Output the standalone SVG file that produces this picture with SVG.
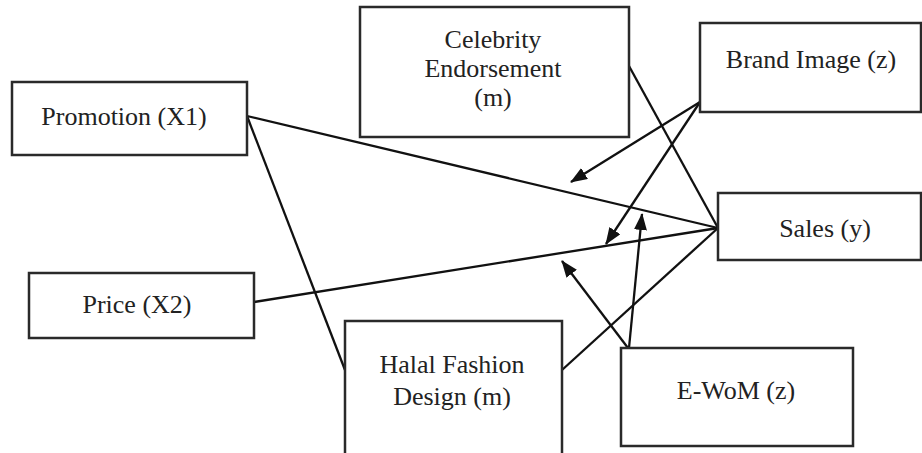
<svg xmlns="http://www.w3.org/2000/svg" width="922" height="453" viewBox="0 0 922 453">
<style>
.box{fill:#fff;stroke:#2a2a2a;stroke-width:2.5}
.t{font-family:"Liberation Serif","Times New Roman",serif;font-size:26px;fill:#222;text-anchor:middle}
.c{stroke:#111;stroke-width:2.3;fill:none}
</style>
<defs>
<marker id="ah" markerUnits="userSpaceOnUse" markerWidth="17" markerHeight="13" refX="16" refY="6.5" orient="auto">
<path d="M0,0 L17,6.5 L0,13 z" fill="#111"/>
</marker>
</defs>
<g id="connectors">
<line class="c" x1="247" y1="116" x2="718" y2="228"/>
<line class="c" x1="247" y1="116" x2="345" y2="370"/>
<line class="c" x1="254" y1="302" x2="718" y2="228"/>
<line class="c" x1="629" y1="66" x2="718" y2="228"/>
<line class="c" x1="562" y1="370" x2="718" y2="228"/>
<line class="c" x1="700" y1="102" x2="571" y2="182" marker-end="url(#ah)"/>
<line class="c" x1="700" y1="102" x2="606" y2="244" marker-end="url(#ah)"/>
<line class="c" x1="629" y1="348" x2="642" y2="214" marker-end="url(#ah)"/>
<line class="c" x1="628" y1="348" x2="562" y2="261" marker-end="url(#ah)"/>
</g>
<g id="promotion"><rect class="box" x="12" y="82" width="235" height="73"/><text class="t" x="124" y="125">Promotion (X1)</text></g>
<g id="price"><rect class="box" x="29" y="273" width="225" height="65"/><text class="t" x="137" y="313">Price (X2)</text></g>
<g id="celebrity"><rect class="box" x="360" y="7" width="269" height="130"/><text class="t" x="493" y="48">Celebrity</text><text class="t" x="493" y="77">Endorsement</text><text class="t" x="493" y="106">(m)</text></g>
<g id="brand"><rect class="box" x="700" y="23" width="221" height="89"/><text class="t" x="811" y="68">Brand Image (z)</text></g>
<g id="sales"><rect class="box" x="718" y="193" width="203" height="67"/><text class="t" x="825" y="237">Sales (y)</text></g>
<g id="halal"><rect class="box" x="345" y="321" width="217" height="140"/><text class="t" x="452" y="373">Halal Fashion</text><text class="t" x="452" y="405">Design (m)</text></g>
<g id="ewom"><rect class="box" x="621" y="348" width="232" height="98"/><text class="t" x="736" y="399">E-WoM (z)</text></g>
</svg>
